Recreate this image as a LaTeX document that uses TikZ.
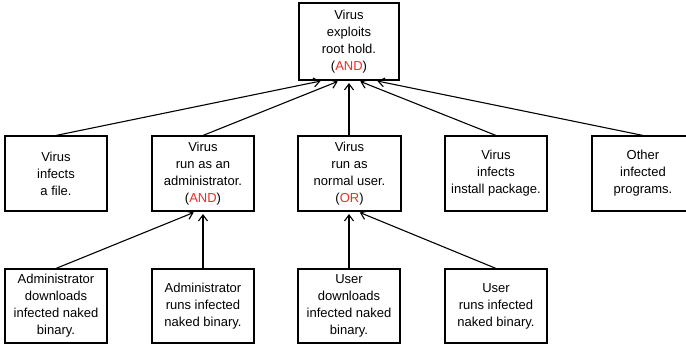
\documentclass[tikz,border=0pt]{standalone}
\usepackage{fontspec}
\setmainfont{Liberation Sans}
\usetikzlibrary{arrows.meta}
\definecolor{gatered}{RGB}{232,48,40}
\newcommand{\gate}[1]{(\textcolor{gatered}{#1})}
\begin{document}
\begin{tikzpicture}[x=1pt,y=-1pt,
  box/.style={draw=black, line width=1.1pt, fill=white, align=center,
    inner sep=0pt, minimum width=102pt, minimum height=75pt,
    font=\fontsize{13}{17}\selectfont},
  link/.style={line width=1.1pt, -{Straight Barb[length=6pt,width=9pt,line width=1.1pt]},
    shorten >=2.5pt}]
\useasboundingbox (0,0) rectangle (686,345);
% goal
\node[box, minimum width=100pt, minimum height=77pt] (root) at (349,41.5)
  {Virus\\exploits\\root hold.\\\gate{AND}};
% second level
\node[box] (file)  at (56,173.5)  {Virus\\infects\\a file.};
\node[box] (admin) at (203,173.5) {Virus\\run as an\\administrator.\\\gate{AND}};
\node[box, minimum width=103pt] (user) at (349.5,173.5) {Virus\\run as\\normal user.\\\gate{OR}};
\node[box] (pkg)   at (496,173.5) {Virus\\infects\\install package.};
\node[box] (other) at (643,173.5) {Other\\infected\\programs.};
% leaves
\node[box, minimum height=74pt] (adl) at (56,306)  {Administrator\\downloads\\infected naked\\binary.};
\node[box, minimum height=74pt] (arn) at (203,306) {Administrator\\runs infected\\naked binary.};
\node[box, minimum height=74pt] (udl) at (349,306) {User\\downloads\\infected naked\\binary.};
\node[box, minimum height=74pt] (urn) at (496,306) {User\\runs infected\\naked binary.};
% edges into the goal
\draw[link] (file.north)  -- ([xshift=-26pt]root.south);
\draw[link] (admin.north) -- ([xshift=-9pt]root.south);
\draw[link] (user.north -| root.south) -- (root.south);
\draw[link] (pkg.north)   -- ([xshift=9pt]root.south);
\draw[link] (other.north) -- ([xshift=26pt]root.south);
% edges into the second level
\draw[link] (adl.north) -- ([xshift=-7pt]admin.south);
\draw[link] (arn.north) -- (admin.south);
\draw[link] (udl.north) -- ([xshift=-0.5pt]user.south);
\draw[link] (urn.north) -- ([xshift=8pt]user.south);
\end{tikzpicture}
\end{document}
